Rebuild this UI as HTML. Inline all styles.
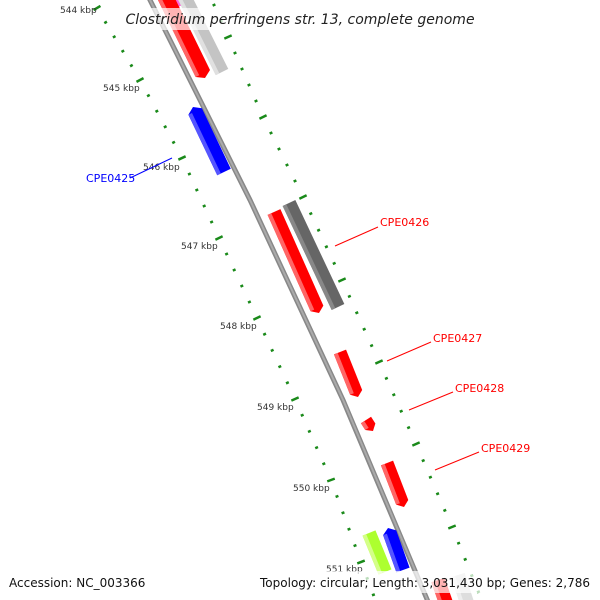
<!DOCTYPE html>
<html><head><meta charset="utf-8"><style>
html,body{margin:0;padding:0;background:#fff;width:600px;height:600px;overflow:hidden}
svg{display:block}
text{font-family:"DejaVu Sans","Liberation Sans",sans-serif}
</style></head><body>
<svg id="s" width="600" height="600" xmlns="http://www.w3.org/2000/svg">
<polyline points="148,-4 250,200 343,400 429,604" fill="none" stroke="#888" stroke-width="5"/>
<polyline points="149,-2 251,202 344,402 430,606" fill="none" stroke="#aaa" stroke-width="2"/>
<g id="g"></g>
<g id="ticks"></g>
<g font-size="9" fill="#333">
<text x="60" y="13">544 kbp</text>
<text x="103" y="91">545 kbp</text>
<text x="143" y="170">546 kbp</text>
<text x="181" y="249">547 kbp</text>
<text x="220" y="329">548 kbp</text>
<text x="257" y="410">549 kbp</text>
<text x="293" y="491">550 kbp</text>
<text x="326" y="572">551 kbp</text>
</g>
<g font-size="11">
<line x1="130" y1="178" x2="172" y2="158" stroke="#00f"/>
<text x="86" y="182" fill="#00f">CPE0425</text>
<line x1="335" y1="246" x2="378" y2="227" stroke="#f00"/>
<text x="380" y="226" fill="#f00">CPE0426</text>
<line x1="387" y1="361" x2="431" y2="342" stroke="#f00"/>
<text x="433" y="342" fill="#f00">CPE0427</text>
<line x1="409" y1="410" x2="453" y2="392" stroke="#f00"/>
<text x="455" y="392" fill="#f00">CPE0428</text>
<line x1="435" y1="470" x2="479" y2="452" stroke="#f00"/>
<text x="481" y="452" fill="#f00">CPE0429</text>
</g>
<rect x="124" y="8" width="352" height="22" fill="#fff" opacity="0.7"/>
<text x="300" y="24" text-anchor="middle" font-size="14" font-style="italic" fill="#222">Clostridium perfringens str. 13, complete genome</text>
<rect x="4" y="571" width="592" height="22" fill="#fff" opacity="0.7"/>
<text x="9" y="587" font-size="12" fill="#111">Accession: NC_003366</text>
<text x="590" y="587" font-size="12" fill="#111" text-anchor="end" textLength="330">Topology: circular; Length: 3,031,430 bp; Genes: 2,786</text>
</svg>
<script>
var NS="http://www.w3.org/2000/svg";
function el(p,t,a){var e=document.createElementNS(NS,t);for(var k in a)e.setAttribute(k,a[k]);p.appendChild(e);return e;}
var g=document.getElementById('g'),tk=document.getElementById('ticks');
function feat(x1,y1,x2,y2,w,c,lc,dir){
 var dx=x2-x1,dy=y2-y1,L=Math.hypot(dx,dy),ux=dx/L,uy=dy/L,nx=-uy,ny=ux,h=w/2,t=5;
 var P=function(x,y,a,b){return (x+nx*a+ux*b)+","+(y+ny*a+uy*b);};
 var pts;
 if(dir>0) pts=[P(x1,y1,-h,0),P(x1,y1,h,0),P(x2,y2,h,-t),P(x2,y2,0,0),P(x2,y2,-h,-t)];
 else if(dir<0) pts=[P(x1,y1,-h,t),P(x1,y1,0,0),P(x1,y1,h,t),P(x2,y2,h,0),P(x2,y2,-h,0)];
 else pts=[P(x1,y1,-h,0),P(x1,y1,h,0),P(x2,y2,h,0),P(x2,y2,-h,0)];
 el(g,'polygon',{points:pts.join(' '),fill:c});
 el(g,'polygon',{points:[P(x1,y1,h-4,dir<0?t:0),P(x1,y1,h,dir<0?t:0),P(x2,y2,h,dir>0?-t:0),P(x2,y2,h-4,dir>0?-t:0)].join(' '),fill:lc});
}
feat(176,-12,184,4,14,'#f0c','#f6d',0);
feat(161,-12,205,78,16,'#f00','#f66',1);
feat(180,-12,222,72,14,'#c4c4c4','#e0e0e0',0);
feat(193,107,224,172,15,'#00f','#55f',-1);
feat(274,212,319,313,14,'#f00','#f66',1);
feat(289,203,338,307,14,'#666','#888',0);
feat(340,352,358,397,13,'#f00','#f66',1);
feat(366,420,373,431,12,'#f00','#f66',1);
feat(387,463,404,507,13,'#f00','#f66',1);
feat(369,533,385,572,14,'#adff2f','#d4ff88',0);
feat(388,528,403,570,14,'#00f','#55f',-1);
feat(438,580,447,606,14,'#f00','#f66',0);
feat(458,575,468,606,14,'#ddd','#eee',0);
function track(pts){
 for(var i=0;i<pts.length-1;i++){
  var a=pts[i],b=pts[i+1];
  for(var j=0;j<5;j++){
   var f=j/5,x=a[0]+(b[0]-a[0])*f,y=a[1]+(b[1]-a[1])*f;
   var dx=b[0]-a[0],dy=b[1]-a[1],L=Math.hypot(dx,dy),nx=-dy/L,ny=dx/L;
   var len=(j==0)?4:1.5;
   el(tk,'line',{x1:x-nx*len,y1:y-ny*len,x2:x+nx*len,y2:y+ny*len,stroke:'#1a8a1a','stroke-width':2.5});
  }
 }
}
track([[56,-72],[97,8],[140,80],[182,158],[219,238],[257,318],[295,399],[331,480],[361,562],[392,644]]);
track([[193,-43],[228,37],[263,117],[303,197],[342,280],[379,362],[416,444],[452,527],[485,608]]);
</script>
</body></html>
